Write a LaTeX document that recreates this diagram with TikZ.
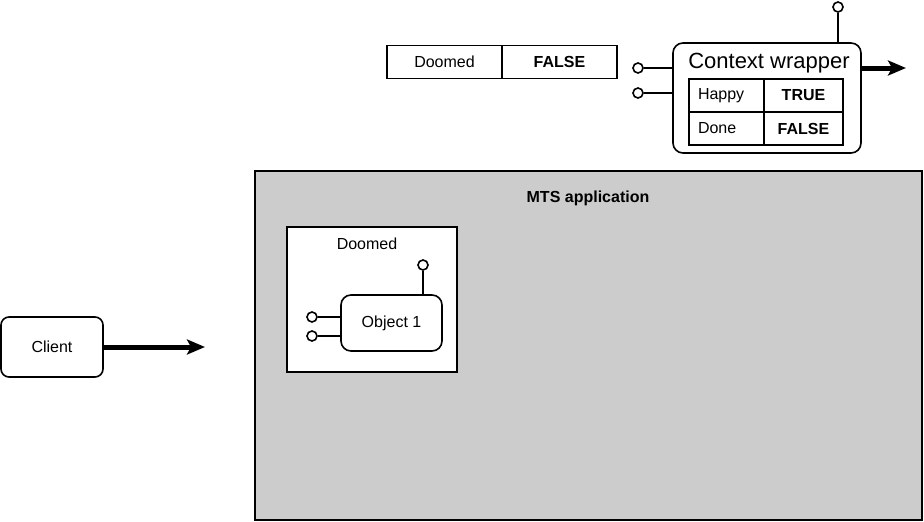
\documentclass[tikz,border=0pt]{standalone}
\usepackage{fontspec}
\setmainfont{Liberation Sans}
\usetikzlibrary{arrows.meta}

\begin{document}
\begin{tikzpicture}[x=1pt,y=1pt,line width=1.6pt,
  every node/.style={inner sep=0pt,font=\fontsize{16}{19}\selectfont},
  cell/.style={draw,rectangle,minimum height=33},
  keycell/.style={cell,minimum width=75,inner xsep=9pt,text width=57pt,align=left},
  valcell/.style={cell,minimum width=79,font=\fontsize{16}{19}\selectfont\bfseries},
  rbox/.style={draw,rectangle,fill=white,rounded corners=10},
  socket/.style={draw,circle,fill=white,minimum size=10,line width=1.6pt},
  bigarrow/.style={line width=5pt,-{Stealth[length=18pt,width=15pt,inset=4pt]}}]
\useasboundingbox (0,0) rectangle (924,-522);
% the application
\node [draw,fill=black!20,minimum width=667,minimum height=349] (mts) at (588.5,-345.5) {};
\node [font=\fontsize{16}{19}\selectfont\bfseries] (mtslabel) at (588,-198) {MTS application};
\node [draw,fill=white,minimum width=170,minimum height=145] (doomedbox) at (372,-299.5) {};
\node (doomedlabel) at (367,-244) {Doomed};
\node [rbox,minimum width=101,minimum height=56] (obj) at (391.5,-323) {Object 1};
\node [socket] (objtop) at (423,-265) {};
\node [socket] (objin1) at (312,-317) {};
\node [socket] (objin2) at (312,-336) {};
\draw (objtop) -- (objtop |- obj.north);
\draw (objin1) -- (objin1 -| obj.west);
\draw (objin2) -- (objin2 -| obj.west);
% the client
\node [rbox,rounded corners=8,minimum width=102,minimum height=60] (client) at (52,-347) {Client};
\coordinate (clientend) at (205,-347);
\draw [bigarrow] (client) -- (clientend);
% the flag on its own
\node [cell,minimum width=115] (flagkey) at (444.5,-62) {Doomed};
\node [cell,minimum width=115,font=\fontsize{16}{19}\selectfont\bfseries] (flagval) at (559.5,-62) {FALSE};
% the context wrapper
\node [rbox,minimum width=188,minimum height=110] (cw) at (767,-98) {};
\node [font=\fontsize{22}{26}\selectfont] (cwlabel) at (769,-63) {Context wrapper};
\node [keycell] (happy) at (726.5,-95.5) {Happy};
\node [valcell] (happyval) at (803.5,-95.5) {TRUE};
\node [keycell] (done) at (726.5,-128.5) {Done};
\node [valcell] (doneval) at (803.5,-128.5) {FALSE};
\node [socket] (cwtop) at (838,-7) {};
\node [socket] (cwin1) at (638,-68) {};
\node [socket] (cwin2) at (638,-93) {};
\draw (cwtop) -- (cwtop |- cw.north);
\draw (cwin1) -- (cwin1 -| cw.west);
\draw (cwin2) -- (cwin2 -| cw.west);
\coordinate (cwend) at (906,-68);
\draw [bigarrow] (cwend -| cw.east) -- (cwend);
\end{tikzpicture}
\end{document}
